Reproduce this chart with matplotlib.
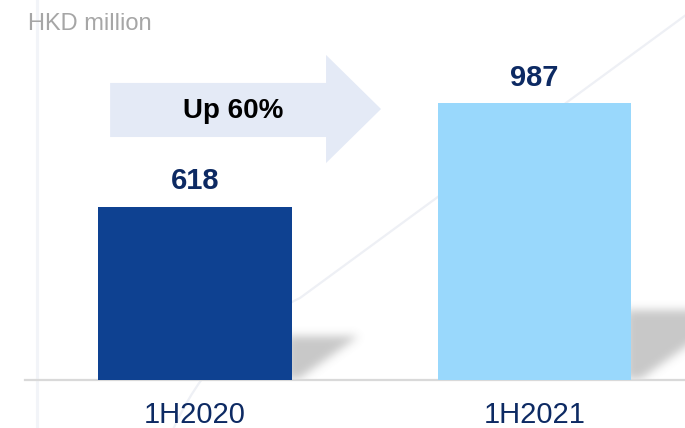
import numpy as np
import matplotlib
matplotlib.use("Agg")
import matplotlib.pyplot as plt
from matplotlib.patches import Polygon
from matplotlib.path import Path
from matplotlib.patches import PathPatch

plt.rcParams['font.family'] = ['Liberation Sans', 'DejaVu Sans']

periods = ["1H2020", "1H2021"]
profit  = [618, 987]
colors  = ["#0e4191", "#99d8fc"]
unit    = "HKD million"

NAVY = "#0d2a63"
W, H = 685, 428

fig = plt.figure(figsize=(W / 100, H / 100), dpi=100)

# background decoration in pixel coords (origin top-left)
bg = fig.add_axes([0, 0, 1, 1], zorder=0)
bg.set_xlim(0, W)
bg.set_ylim(H, 0)
bg.axis("off")
bg.plot([37.5, 37.5], [0, H], color="#f2f4f8", lw=2.2)
swoosh = Path([(172, 432), (212, 340), (300, 298), (690, 12)],
              [Path.MOVETO, Path.CURVE3, Path.CURVE3, Path.LINETO])
bg.add_patch(PathPatch(swoosh, fill=False, edgecolor="#eef0f5", lw=1.6))

# main axes: bottom spine is the baseline
ax = fig.add_axes([25 / W, (H - 380) / H, 660 / W, 380 / H], zorder=1)
ax.patch.set_alpha(0)
xlim = (-0.5007, 1.4433)
ylim = (0, 1356)
ax.set_xlim(*xlim)
ax.set_ylim(*ylim)
for s in ["top", "right", "left"]:
    ax.spines[s].set_visible(False)
ax.spines["bottom"].set_color("#d9d9d9")
ax.spines["bottom"].set_linewidth(1.6)
ax.set_yticks([])
x = np.arange(len(periods))
ax.set_xticks(x)
ax.set_xticklabels(periods, fontsize=21, color=NAVY)
ax.tick_params(axis="x", length=0, pad=15)

bar_w = 0.571
bars = ax.bar(x, profit, width=bar_w, color=colors, zorder=3)


def blur1d(a, sigma, axis):
    r = int(3 * sigma)
    k = np.exp(-0.5 * (np.arange(-r, r + 1) / sigma) ** 2)
    k /= k.sum()
    return np.apply_along_axis(lambda v: np.convolve(np.pad(v, r, mode="edge"), k, mode="valid"), axis, a)


# soft drop shadow to the right of each bar
fig.canvas.draw()
inv = ax.transData.inverted()
for xi, v in zip(x, profit):
    (xr, yb), (_, yt) = ax.transData.transform([(xi + bar_w / 2, 0), (xi + bar_w / 2, v)])
    hpx = yt - yb
    sh, sw = 0.25 * hpx, 0.38 * hpx
    x0, x1 = xr - 6, xr + sw + 20
    y0, y1 = yb, yb + sh + 20
    gx, gy = np.meshgrid(np.arange(x0, x1), np.arange(y0, y1))
    tri = Path([(xr - 6, yb), (xr - 6, yb + sh), (xr + sw, yb + sh), (xr + 0.08 * sw, yb)])
    m = tri.contains_points(np.c_[gx.ravel(), gy.ravel()]).reshape(gx.shape).astype(float)
    m = blur1d(blur1d(m, 4.5, 0), 4.5, 1)
    img = np.zeros(m.shape + (4,))
    img[..., :3] = 0.5
    img[..., 3] = 0.43 * m
    (ex0, ey0), (ex1, ey1) = inv.transform([(x0, y0), (x1, y1)])
    ax.imshow(img, extent=(ex0, ex1, ey0, ey1), origin="lower", aspect="auto",
              interpolation="bilinear", zorder=2, clip_on=True)

ax.set_xlim(*xlim)
ax.set_ylim(*ylim)

for xi, v in zip(x, profit):
    ax.annotate(f"{v}", (xi, v), xytext=(0, 12.5), textcoords="offset points",
                ha="center", va="baseline", fontsize=21, fontweight="bold", color=NAVY)

# growth arrow between the two bars
body_y = (867, 1060)
head_y = (774, 1160)
ax.add_patch(Polygon([(-0.25, body_y[0]), (0.386, body_y[0]), (0.386, head_y[0]),
                      (0.548, 967), (0.386, head_y[1]), (0.386, body_y[1]),
                      (-0.25, body_y[1])], closed=True, facecolor="#e4eaf6",
                     edgecolor="none", zorder=1))
growth = (profit[1] / profit[0] - 1) * 100
ax.text(0.112, 935, f"Up {growth:.0f}%", ha="center", va="baseline",
        fontsize=20, fontweight="bold", color="black", zorder=4)

fig.text(28 / W, 1 - 30 / H, unit, fontsize=17, color="#a6a6a6", va="baseline")

fig.savefig("out.png", dpi=100)
